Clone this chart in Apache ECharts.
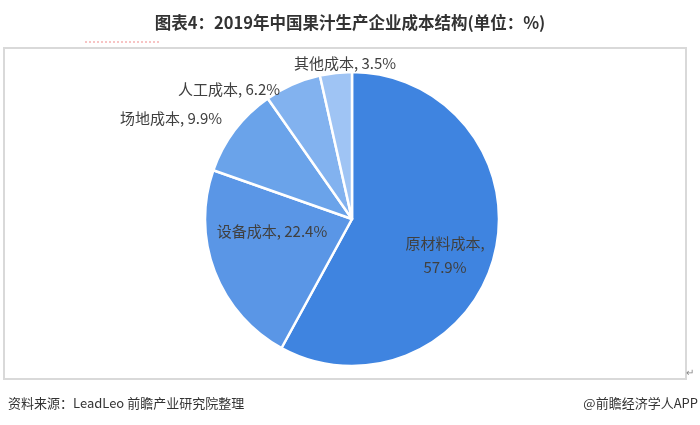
<!DOCTYPE html>
<html>
<head>
<meta charset="utf-8">
<script src="https://cdn.jsdelivr.net/npm/echarts@6/dist/echarts.min.js"></script>
<style>
html,body{margin:0;padding:0;background:#fff;}
#c{width:700px;height:425px;}
</style>
</head>
<body>
<div id="c"></div>
<script>
// Data
const categories = ['原材料成本', '设备成本', '场地成本', '人工成本', '其他成本'];
const values = [57.9, 22.4, 9.9, 6.2, 3.5];
const colors = ['#3f84e0', '#5a96e6', '#6aa3ea', '#82b2ef', '#9fc4f4'];
const titleText = '图表4：2019年中国果汁生产企业成本结构(单位：%)';
const sourceText = '资料来源：LeadLeo 前瞻产业研究院整理';
const brandText = '@前瞻经济学人APP';

const cjk = '"Microsoft YaHei","Noto Sans CJK SC","Noto Sans",sans-serif';
// label anchor positions (layout only)
const labelPos = [
  {x: 445, y: 255},
  {x: 272, y: 231},
  {x: 171, y: 118},
  {x: 229, y: 89},
  {x: 345, y: 63}
];

const chart = echarts.init(document.getElementById('c'), null, {renderer: 'canvas'});
const option = {
  animation: false,
  backgroundColor: '#fff',
  title: {
    text: titleText,
    left: 'center',
    top: 9,
    textStyle: {fontFamily: cjk, fontSize: 16.5, fontWeight: 'bold', color: '#333'}
  },
  graphic: [
    {type: 'rect', shape: {x: 4, y: 48, width: 682, height: 331}, style: {fill: 'none', stroke: '#d9d9d9', lineWidth: 2}, silent: true, z: -1},
    {type: 'line', shape: {x1: 85, y1: 42, x2: 160, y2: 42}, style: {stroke: '#f08a8a', lineWidth: 1, lineDash: [2, 2]}},
    {type: 'text', left: 8, top: 397, style: {text: sourceText, font: '13px "SimSun","Noto Sans CJK SC",sans-serif', fill: '#333'}},
    {type: 'text', right: 2, top: 397, style: {text: brandText, font: '13px "SimSun","Noto Sans CJK SC",sans-serif', fill: '#333'}},
    {type: 'text', left: 686, top: 368, style: {text: '↵', font: '10px sans-serif', fill: '#888'}}
  ],
  series: [{
    type: 'pie',
    center: [352, 219],
    radius: 147,
    startAngle: 90,
    clockwise: true,
    avoidLabelOverlap: false,
    data: categories.map((n, i) => ({
      name: n,
      value: values[i],
      itemStyle: {color: colors[i]}
    })),
    itemStyle: {borderColor: '#fff', borderWidth: 2.5},
    label: {
      show: true,
      position: 'inside',
      fontFamily: cjk,
      fontSize: 15,
      color: '#404040',
      lineHeight: 24,
      formatter: function (p) {
        return p.dataIndex === 0 ? p.name + ',\n' + p.value + '%' : p.name + ', ' + p.value + '%';
      }
    },
    labelLine: {show: false},
    labelLayout: function (p) {
      const lp = labelPos[p.dataIndex];
      return {x: lp.x, y: lp.y, align: 'center', verticalAlign: 'middle'};
    },
    emphasis: {disabled: true}
  }]
};
chart.setOption(option);
</script>
</body>
</html>
